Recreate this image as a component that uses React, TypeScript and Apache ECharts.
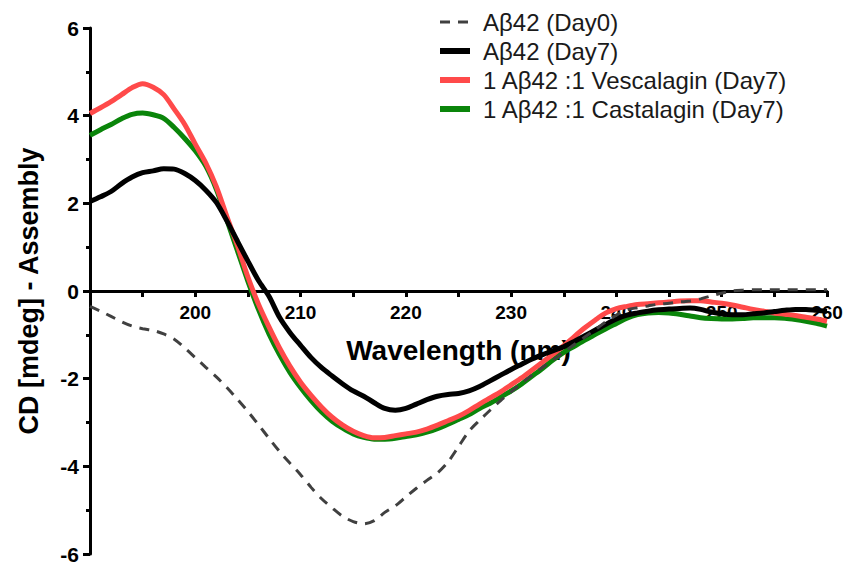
import React, { useEffect, useRef } from "react";
import * as echarts from "echarts";

const wavelengths: number[] = [];
for (let w = 190; w <= 260; w++) wavelengths.push(w);

const seriesNames = [
  "Aβ42 (Day0)",
  "Aβ42 (Day7)",
  "1 Aβ42 :1 Vescalagin (Day7)",
  "1 Aβ42 :1 Castalagin (Day7)",
];

const day0 = [
  -0.35, -0.46, -0.58, -0.7, -0.8, -0.86, -0.9, -0.98, -1.1, -1.3,
  -1.52, -1.74, -1.96, -2.2, -2.47, -2.75, -3.05, -3.36, -3.66, -3.93,
  -4.19, -4.48, -4.74, -4.95, -5.14, -5.26, -5.31, -5.24, -5.05, -4.9,
  -4.7, -4.5, -4.32, -4.15, -3.9, -3.55, -3.2, -2.95, -2.72, -2.5,
  -2.3, -2.1, -1.92, -1.74, -1.57, -1.4, -1.22, -1.05, -0.88, -0.7,
  -0.55, -0.43, -0.38, -0.34, -0.3, -0.28, -0.25, -0.23, -0.18, -0.11,
  -0.05, 0.0, 0.02, 0.03, 0.03, 0.03, 0.03, 0.03, 0.03, 0.03, 0.03,
];

const day7 = [
  2.04, 2.15, 2.27, 2.45, 2.6, 2.7, 2.74, 2.79, 2.78, 2.68,
  2.52, 2.3, 2.02, 1.6, 1.14, 0.68, 0.24, -0.12, -0.6, -0.95,
  -1.24, -1.52, -1.75, -1.94, -2.12, -2.28, -2.4, -2.55, -2.68, -2.72,
  -2.68, -2.58, -2.48, -2.4, -2.36, -2.34, -2.28, -2.18, -2.05, -1.92,
  -1.79, -1.67, -1.55, -1.45, -1.36, -1.27, -1.15, -1.02, -0.89, -0.76,
  -0.64, -0.55, -0.5, -0.46, -0.43, -0.41, -0.4, -0.39, -0.42, -0.48,
  -0.52, -0.54, -0.54, -0.52, -0.5, -0.47, -0.44, -0.42, -0.42, -0.44, -0.46,
];

const vescalagin = [
  4.05, 4.18, 4.32, 4.48, 4.64, 4.73, 4.65, 4.48, 4.15, 3.8,
  3.35, 2.92, 2.38, 1.7, 1.04, 0.32, -0.3, -0.82, -1.3, -1.72,
  -2.08, -2.38, -2.65, -2.88, -3.06, -3.2, -3.3, -3.35, -3.34, -3.3,
  -3.26, -3.22, -3.15, -3.06, -2.96, -2.86, -2.73, -2.58, -2.44, -2.3,
  -2.14, -1.98, -1.8, -1.62, -1.44, -1.25, -1.04, -0.84, -0.66, -0.5,
  -0.4, -0.35, -0.31, -0.29, -0.27, -0.25, -0.23, -0.22, -0.22, -0.25,
  -0.28, -0.32, -0.37, -0.42, -0.46, -0.5, -0.53, -0.56, -0.6, -0.64, -0.69,
];

const castalagin = [
  3.55, 3.68, 3.8, 3.93, 4.03, 4.06, 4.02, 3.94, 3.73, 3.48,
  3.2, 2.85, 2.32, 1.62, 0.92, 0.22, -0.42, -0.98, -1.45, -1.86,
  -2.2, -2.5, -2.76, -2.97, -3.13, -3.26, -3.34, -3.38, -3.38, -3.36,
  -3.32, -3.28, -3.22, -3.14, -3.04, -2.93, -2.82, -2.68, -2.56, -2.42,
  -2.28, -2.12, -1.94, -1.76, -1.57, -1.4, -1.26, -1.12, -0.99, -0.86,
  -0.74, -0.62, -0.54, -0.5, -0.49, -0.5, -0.53, -0.57, -0.61, -0.63,
  -0.64, -0.64, -0.63, -0.61, -0.61, -0.61, -0.62, -0.65, -0.69, -0.74, -0.8,
];

const colors = ["#404040", "#000000", "#ff4a4a", "#0a850a"];

const FONT = "Liberation Sans, Arial, sans-serif";

const GRID_TOP = 28;
const GRID_HEIGHT = 526;

function pairs(ys: number[]) {
  return wavelengths.map((x, i) => [x, ys[i]]);
}

export default function App() {
  const ref = useRef<HTMLDivElement>(null);
  useEffect(() => {
    if (!ref.current) return;
    const chart = echarts.init(ref.current, undefined, { renderer: "svg" });
    const yMin = -6;
    const yMax = 6;
    // distance of the zero line above the grid bottom
    const zeroOffset = (GRID_HEIGHT * (0 - yMin)) / (yMax - yMin);
    chart.setOption({
      animation: false,
      backgroundColor: "#ffffff",
      textStyle: { fontFamily: FONT },
      legend: {
        orient: "vertical",
        left: 432,
        top: 5,
        itemWidth: 30,
        itemHeight: 14,
        itemGap: 5,
        itemStyle: { opacity: 0 },
        textStyle: {
          fontFamily: FONT,
          fontSize: 24,
          lineHeight: 24,
          color: "#1a1a1a",
          padding: [0, 0, 0, 8],
        },
        data: [
          { name: seriesNames[0], lineStyle: { width: 3, type: [10, 8], color: colors[0] } },
          { name: seriesNames[1], lineStyle: { width: 6, color: colors[1] } },
          { name: seriesNames[2], lineStyle: { width: 6, color: colors[2] } },
          { name: seriesNames[3], lineStyle: { width: 6, color: colors[3] } },
        ],
      },
      grid: {
        left: 90,
        top: GRID_TOP,
        width: 737,
        height: GRID_HEIGHT,
        containLabel: false,
        outerBoundsMode: "none",
      },
      xAxis: {
        type: "value",
        min: 190,
        max: 260,
        interval: 10,
        position: "bottom",
        offset: -zeroOffset,
        name: "Wavelength (nm)",
        nameLocation: "middle",
        nameGap: 45,
        nameTextStyle: { fontFamily: FONT, fontSize: 28, fontWeight: "bold", color: "#000" },
        axisLine: { onZero: false, lineStyle: { color: "#000", width: 3 } },
        axisTick: { show: true, length: 6, lineStyle: { color: "#000", width: 3 } },
        minorTick: { show: true, splitNumber: 2, length: 6, lineStyle: { color: "#000", width: 3 } },
        axisLabel: {
          showMinLabel: false,
          margin: 12,
          fontFamily: FONT,
          fontSize: 19,
          fontWeight: "bold",
          color: "#000",
        },
        splitLine: { show: false },
      },
      yAxis: {
        type: "value",
        min: yMin,
        max: yMax,
        interval: 2,
        name: "CD [mdeg] - Assembly",
        nameLocation: "middle",
        nameGap: 48,
        nameTextStyle: { fontFamily: FONT, fontSize: 27, fontWeight: "bold", color: "#000" },
        axisLine: { show: true, onZero: false, lineStyle: { color: "#000", width: 3 } },
        axisTick: { show: true, length: 7, lineStyle: { color: "#000", width: 3 } },
        minorTick: { show: true, splitNumber: 2, length: 4, lineStyle: { color: "#000", width: 3 } },
        axisLabel: {
          margin: 11,
          fontFamily: FONT,
          fontSize: 21,
          lineHeight: 18,
          fontWeight: "bold",
          color: "#000",
        },
        splitLine: { show: false },
      },
      series: [
        {
          name: seriesNames[0],
          type: "line",
          data: pairs(day0),
          symbol: "none",
          smooth: 0.3,
          z: 5,
          itemStyle: { color: colors[0] },
          lineStyle: { color: colors[0], width: 3, type: [10, 8] },
        },
        {
          name: seriesNames[1],
          type: "line",
          data: pairs(day7),
          symbol: "none",
          smooth: 0.3,
          z: 4,
          itemStyle: { color: colors[1] },
          lineStyle: { color: colors[1], width: 5 },
        },
        {
          name: seriesNames[2],
          type: "line",
          data: pairs(vescalagin),
          symbol: "none",
          smooth: 0.3,
          z: 3,
          itemStyle: { color: colors[2] },
          lineStyle: { color: colors[2], width: 5 },
        },
        {
          name: seriesNames[3],
          type: "line",
          data: pairs(castalagin),
          symbol: "none",
          smooth: 0.3,
          z: 2,
          itemStyle: { color: colors[3] },
          lineStyle: { color: colors[3], width: 5 },
        },
      ],
    });
    return () => chart.dispose();
  }, []);
  return (
    <div
      ref={ref}
      style={{ position: "absolute", left: 0, top: 0, width: 850, height: 567 }}
    />
  );
}
